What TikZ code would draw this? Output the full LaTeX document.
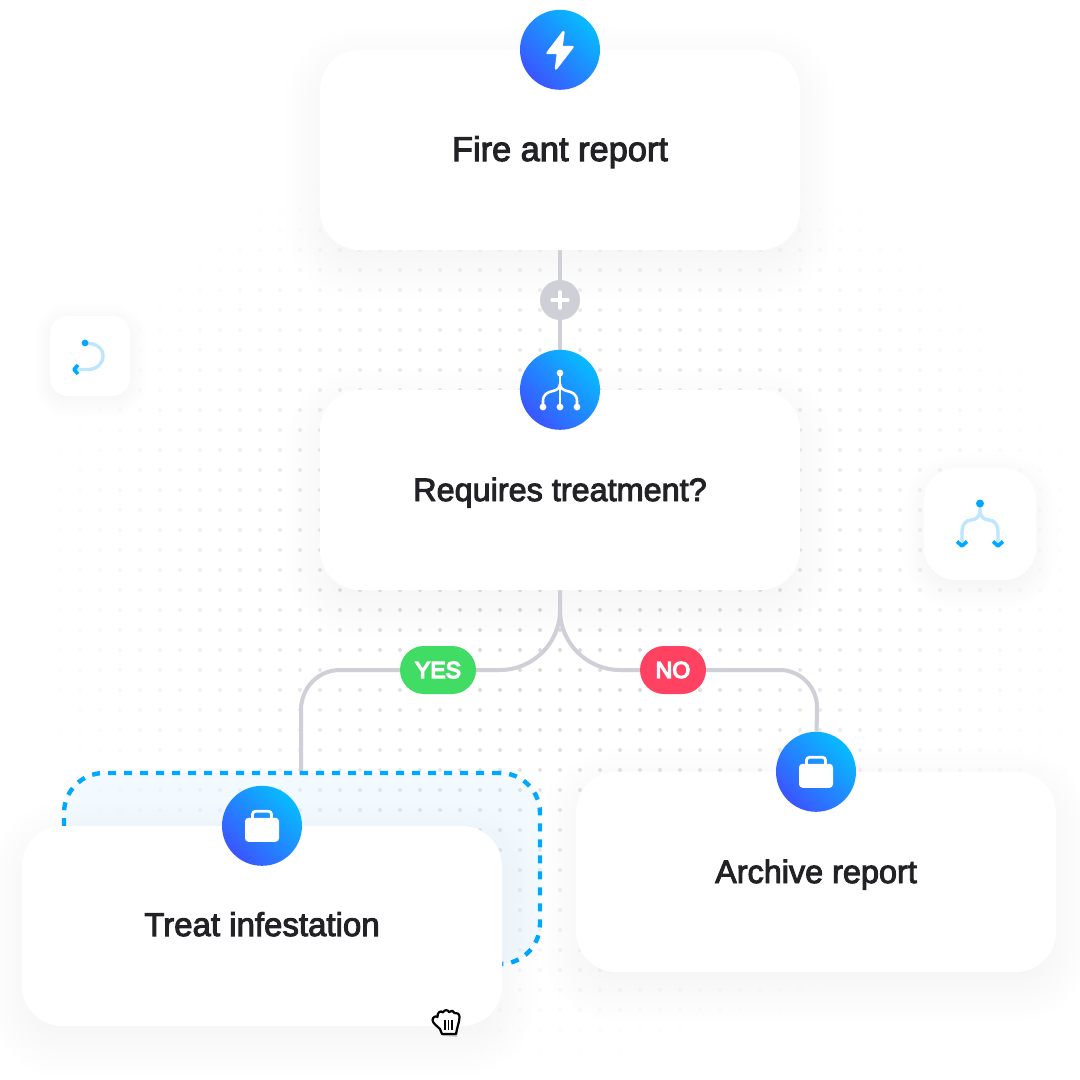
\documentclass[tikz,border=0pt]{standalone}
\usepackage{fontspec}
\usepackage{tikz}
\setmainfont{Liberation Sans}[FakeBold=3]
\newfontfamily\pillfont{Liberation Sans}[FakeBold=6]
\usetikzlibrary{backgrounds,positioning}
\definecolor{linkgray}{HTML}{CFCFD8}
\definecolor{ballblue}{HTML}{3B55FF}
\definecolor{ballcyan}{HTML}{06BCFF}
\definecolor{dashblue}{HTML}{00A8FF}
\definecolor{paleblue}{HTML}{BFE6FF}
\definecolor{titletext}{HTML}{222226}
\definecolor{yesgreen}{HTML}{40DC64}
\definecolor{nored}{HTML}{FF4162}

% soft shadow below a node: #1 name, #2 corner radius, #3 spread, #4 drop
\newcommand{\softshadow}[4]{%
  \foreach \g in {0,1,...,9} {
    \pgfmathsetmacro{\gg}{\g*#3/9-#3/3}
    \pgfmathsetmacro{\rr}{max(#2+\gg,1)}
    \fill [black, opacity=0.003, rounded corners=\rr pt]
      ([xshift=-\gg pt,yshift=\gg pt-#4 pt]#1.north west) rectangle
      ([xshift=\gg pt,yshift=-\gg pt-#4 pt]#1.south east);
  }
}

\begin{document}
\begin{tikzpicture}[
    x=1pt, y=-1pt,
    flowcard/.style={
      rectangle,
      rounded corners=40pt,
      fill=white,
      minimum width=480pt,
      minimum height=200pt,
      inner sep=0pt,
      text height=28pt,
      text depth=6pt,
      text=titletext,
      font=\fontsize{32.4}{36}\selectfont
    },
    iconball/.style={
      circle,
      minimum size=80pt,
      inner sep=0pt,
      left color=ballcyan,
      right color=ballblue,
      shading angle=-45
    },
    toolcard/.style={
      rectangle,
      fill=white,
      inner sep=0pt
    },
    pill/.style={
      rectangle,
      rounded corners=24pt,
      minimum height=48pt,
      inner sep=0pt,
      text=white,
      font=\pillfont\fontsize{23}{26}\selectfont
    },
    flowline/.style={
      draw=linkgray,
      line width=4pt
    },
    iconline/.style={
      draw=white,
      line width=2.6pt,
      line cap=round,
      line join=round
    },
    paleline/.style={
      draw=paleblue,
      line width=3.4pt
    },
    tipline/.style={
      draw=dashblue,
      line width=3.6pt,
      line join=round
    }
  ]
  \useasboundingbox (0,0) rectangle (1080,1080);

  % dotted backdrop
  \begin{pgfonlayer}{background}
    \fill [white] (0,0) rectangle (1080,1080);
    \foreach \px in {40,60,...,1060} {
      \foreach \py in {170,190,...,1050} {
        \pgfmathsetmacro{\dd}{sqrt(((\px-560)/530)^2+((\py-590)/470)^2)}
        \pgfmathsetmacro{\dotshade}{14*max(0,min(1,1.3*(1-\dd)))}
        \fill [black!\dotshade!white] (\px,\py) circle (2pt);
      }
    }
  \end{pgfonlayer}

  % the cards
  \node [flowcard, font=\fontsize{34.4}{36}\selectfont] (reportcard) at (560,150) {Fire ant report};
  \node [iconball] (reportball) at (reportcard.north) {};
  \node [flowcard] (decisioncard) at (560,490) {Requires treatment?};
  \node [iconball] (decisionball) at (decisioncard.north) {};
  \node [circle, fill=linkgray, minimum size=40pt, inner sep=0pt] (plusnode) at (560,300) {};
  \node [flowcard] (archivecard) at (816,872) {Archive report};
  \node [iconball] (archiveball) at (archivecard.north) {};

  % selection behind the card being moved
  \node [rectangle, rounded corners=40pt, draw=dashblue, line width=4.4pt,
         dash pattern=on 8pt off 8pt, fill=dashblue, fill opacity=0.05, draw opacity=1,
         minimum width=476pt, minimum height=191pt, inner sep=0pt, outer sep=0pt]
         (dropzone) at (302,868.5) {};
  \node [flowcard, fill=none] (treatshadow) at (262,926) {};
  \softshadow{treatshadow}{40}{54}{14}
  \node [flowcard, text height=27pt, text depth=7pt, font=\fontsize{33}{36}\selectfont] (treatcard) at (262,926) {Treat infestation};
  \node [iconball] (treatball) at (treatcard.north) {};

  \node [pill, minimum width=76pt, fill=yesgreen] (yespill) at (438,670) {YES};
  \node [pill, minimum width=66pt, fill=nored] (nopill) at (673,670) {NO};

  % the two tool tiles
  \node [toolcard, rounded corners=18pt, minimum size=80pt] (looptile) at (90,356) {};
  \node [toolcard, rounded corners=32pt, minimum size=112pt] (forktile) at (980,524) {};

  % shadows and connectors stay under everything
  \begin{pgfonlayer}{background}
    \softshadow{reportcard}{40}{54}{14}
    \softshadow{decisioncard}{40}{54}{14}
    \softshadow{archivecard}{40}{54}{14}
    \softshadow{looptile}{18}{24}{4}
    \softshadow{forktile}{32}{32}{8}

    \coordinate (forkpoint) at (560,610);
    \coordinate (treatdrop) at (301,774);
    \draw [flowline] (reportcard.south) -- (plusnode);
    \draw [flowline] (plusnode) -- (decisionball);
    \draw [flowline] (decisioncard.south) -- (forkpoint)
      .. controls (560,643) and (533,670) .. (500,670) -- (yespill);
    \draw [flowline] (yespill) -- (340,670)
      .. controls (318,670) and (301,688) .. (301,710) -- (treatdrop);
    \draw [flowline] (forkpoint)
      .. controls (560,643) and (587,670) .. (620,670) -- (nopill);
    \draw [flowline] (nopill) -- (780,670)
      .. controls (800,670) and (817,687) .. (817,707) -- (archiveball);
  \end{pgfonlayer}

  % plus sign
  \draw [iconline, line width=3.4pt] (552,300) -- (568,300);
  \draw [iconline, line width=3.4pt] (560,292) -- (560,308);

  % lightning bolt
  \fill [white, draw=white, line width=2.4pt, line join=round]
    (563.5,32) -- (547.5,53) -- (558,53) -- (556,68.5) -- (572.5,47) -- (561.5,47) -- cycle;

  % fork glyph in the decision ball
  \draw [iconline] (560,373) -- (560,407);
  \draw [iconline] (543,407) -- (543,401) .. controls (543,394) and (548,392) .. (553,391)
    .. controls (557,390) and (560,388) .. (560,384);
  \draw [iconline] (577,407) -- (577,401) .. controls (577,394) and (572,392) .. (567,391)
    .. controls (563,390) and (560,388) .. (560,384);
  \foreach \dotx/\doty in {560/373, 543/407, 560/407, 577/407} {
    \fill [white] (\dotx,\doty) circle (3.4pt);
  }

  % briefcases
  \foreach \ballname in {treatball, archiveball} {
    \begin{scope}[shift={(\ballname.center)}]
      \fill [white, rounded corners=3.5pt] (-17,-8) rectangle (17,16);
      \draw [white, line width=2.8pt, rounded corners=3pt] (-9.5,-7) -- (-9.5,-14.5) -- (9.5,-14.5) -- (9.5,-7);
    \end{scope}
  }

  % loop glyph
  \draw [paleline] (85,343) .. controls (96,343) and (103,348) .. (103,356)
    .. controls (103,364) and (96,369.5) .. (88,369.5) -- (76,369.5);
  \fill [dashblue] (85,343) circle (3.4pt);
  \draw [tipline] (78,365) -- (74,369.5) -- (78,374);

  % fork glyph in the right tile
  \draw [paleline] (980,504) -- (980,511) .. controls (980,517) and (975,520) .. (971,520)
    .. controls (966,520) and (962,525) .. (962,531) -- (962,544);
  \draw [paleline] (980,511) .. controls (980,517) and (985,520) .. (989,520)
    .. controls (994,520) and (998,525) .. (998,531) -- (998,544);
  \fill [dashblue] (980,503.5) circle (4pt);
  \draw [tipline] (957,541.5) -- (962,546) -- (967,541.5);
  \draw [tipline] (993,541.5) -- (998,546) -- (1003,541.5);

  % grabbing hand
  \fill [black!35, opacity=0.5] (443,1036) -- (434,1022) -- (460,1018) -- (457,1037) -- cycle;
  \draw [black, fill=white, line width=2.2pt, line join=round]
    (442,1034) -- (440,1029) .. controls (437,1026) and (432.5,1023) .. (432.5,1020)
    .. controls (432.5,1017) and (436,1015.5) .. (437.5,1017)
    .. controls (437,1012) and (441,1010) .. (443,1012.5)
    .. controls (444,1009.5) and (448,1009.5) .. (449,1012)
    .. controls (451,1010) and (454,1010.5) .. (454.5,1013)
    .. controls (457,1012) and (459.5,1014) .. (459.5,1017)
    .. controls (459.5,1022) and (457,1027) .. (456,1034) -- cycle;
  \draw [black, line width=1.4pt] (445,1020) -- (445,1030);
  \draw [black, line width=1.4pt] (448.5,1020) -- (448.5,1030);
  \draw [black, line width=1.4pt] (452,1020) -- (452,1030);
\end{tikzpicture}
\end{document}
